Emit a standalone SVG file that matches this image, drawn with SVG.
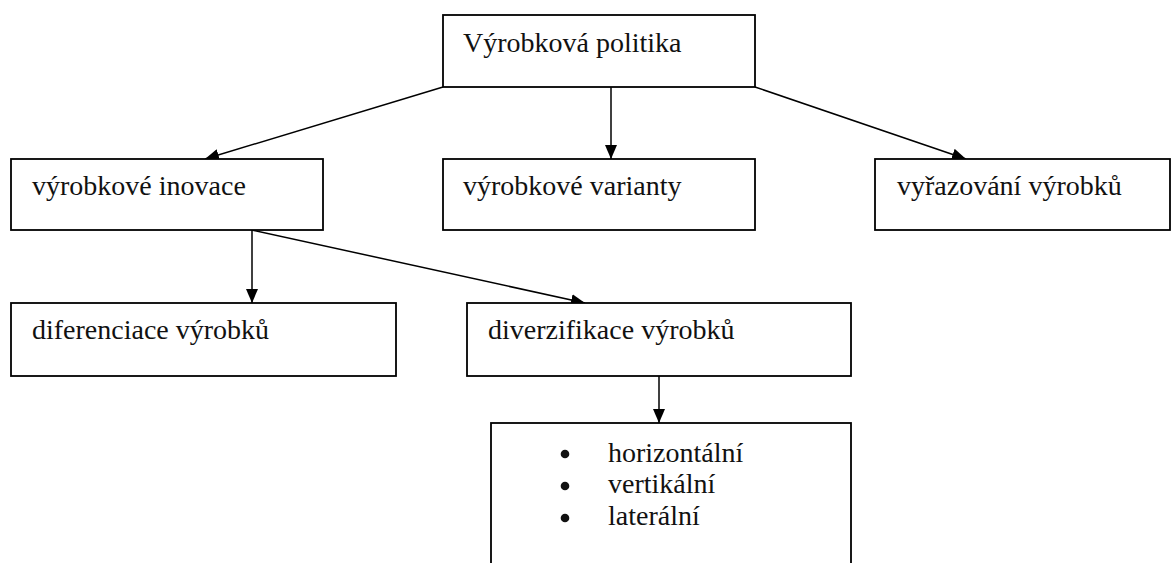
<svg xmlns="http://www.w3.org/2000/svg" width="1173" height="563" viewBox="0 0 1173 563">
  <style>
    .box { fill: #ffffff; stroke: #000000; stroke-width: 1.8; }
    .lbl { font-family: "Liberation Serif", "DejaVu Serif", serif; font-size: 28px; fill: #111111; }
    .conn { stroke: #000000; stroke-width: 1.5; fill: none; marker-end: url(#arrow); }
    .dot { fill: #111111; }
  </style>
  <defs>
    <marker id="arrow" viewBox="0 0 14 12" refX="14" refY="6" markerWidth="14" markerHeight="12" markerUnits="userSpaceOnUse" orient="auto">
      <path d="M0,0 L14,6 L0,12 Z" fill="#000000"/>
    </marker>
  </defs>
  <rect width="1173" height="563" fill="#ffffff"/>

  <g id="connectors">
    <line class="conn" x1="443" y1="87" x2="205" y2="159"/>
    <line class="conn" x1="611" y1="87" x2="611" y2="159"/>
    <line class="conn" x1="755" y1="87" x2="966" y2="159"/>
    <line class="conn" x1="252" y1="230" x2="252" y2="303"/>
    <line class="conn" x1="252" y1="230" x2="585" y2="303"/>
    <line class="conn" x1="659" y1="376" x2="659" y2="423"/>
  </g>

  <g id="node-vyrobkova-politika">
    <rect class="box" x="443" y="15" width="312" height="72"/>
    <text class="lbl" x="463" y="52">Výrobková politika</text>
  </g>
  <g id="node-vyrobkove-inovace">
    <rect class="box" x="11" y="159" width="312" height="71"/>
    <text class="lbl" x="32" y="195">výrobkové inovace</text>
  </g>
  <g id="node-vyrobkove-varianty">
    <rect class="box" x="443" y="159" width="312" height="71"/>
    <text class="lbl" x="463" y="195">výrobkové varianty</text>
  </g>
  <g id="node-vyrazovani-vyrobku">
    <rect class="box" x="875" y="159" width="295" height="71"/>
    <text class="lbl" x="897" y="195">vyřazování výrobků</text>
  </g>
  <g id="node-diferenciace">
    <rect class="box" x="11" y="303" width="385" height="73"/>
    <text class="lbl" x="32" y="339">diferenciace výrobků</text>
  </g>
  <g id="node-diverzifikace">
    <rect class="box" x="467" y="303" width="384" height="73"/>
    <text class="lbl" x="488" y="339">diverzifikace výrobků</text>
  </g>
  <g id="node-typy-diverzifikace">
    <rect class="box" x="491" y="423" width="360" height="160"/>
    <circle class="dot" cx="565" cy="454" r="4.3"/>
    <circle class="dot" cx="565" cy="486" r="4.3"/>
    <circle class="dot" cx="565" cy="518" r="4.3"/>
    <text class="lbl" x="608" y="462">horizontální</text>
    <text class="lbl" x="608" y="493">vertikální</text>
    <text class="lbl" x="608" y="525">laterální</text>
  </g>
</svg>
